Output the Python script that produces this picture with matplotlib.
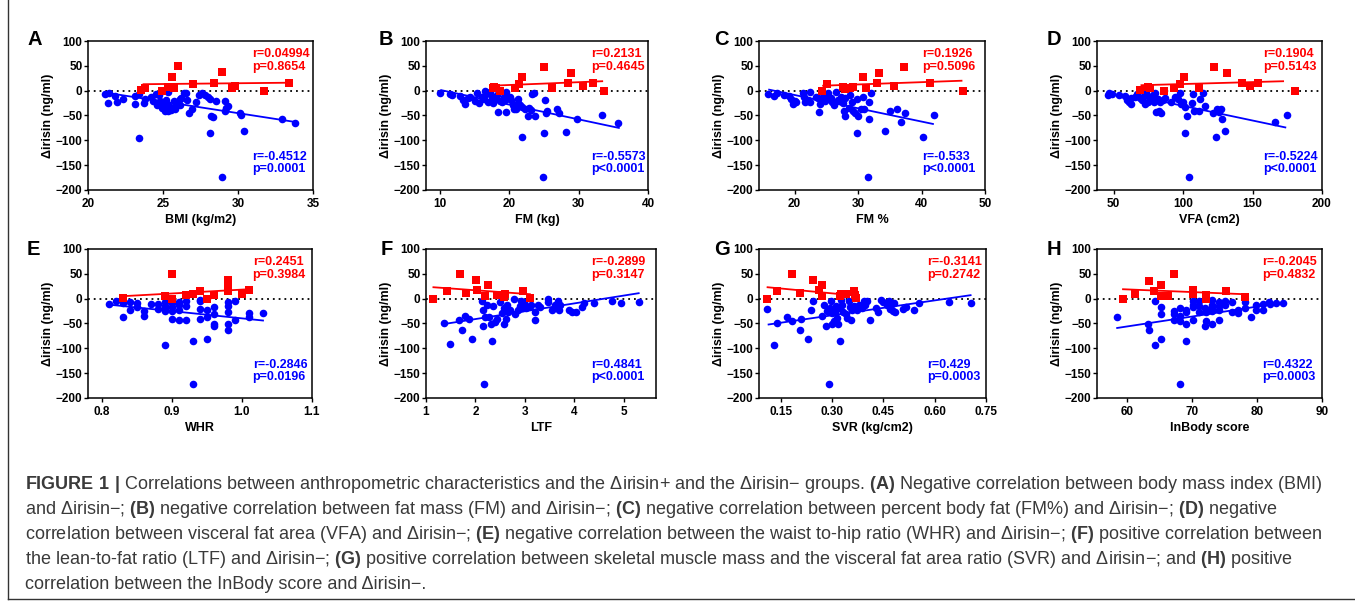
"""
Correlation scatter panels (A-H) with caption
"""
import numpy as np
import matplotlib
matplotlib.use("Agg")
import matplotlib.pyplot as plt
from matplotlib.lines import Line2D

plt.rcParams['font.family'] = ['Liberation Sans', 'DejaVu Sans']
plt.rcParams['mathtext.fontset'] = 'custom'
plt.rcParams['mathtext.rm'] = 'Liberation Sans'
plt.rcParams['mathtext.bf'] = 'Liberation Sans:bold'

# ---------------- data ----------------
# A: BMI
a_pos_x = [23.5, 23.8, 24.9, 25.3, 25.6, 25.7, 26.0, 27.0, 28.4, 28.9, 29.6, 29.8, 31.7, 33.4]
a_pos_y = [2, 5, 0, 8, 28, 5, 49, 13, 15, 37, 6, 9, 0, 16]
a_neg_x = [21.1, 21.4, 21.3, 21.8, 21.9, 22.3, 23.1, 23.1, 23.4, 23.4, 23.7, 23.8, 24.2, 24.3, 24.5,
           24.6, 24.7, 24.8, 24.9, 25.1, 25.1, 25.2, 25.3, 25.3, 25.4, 25.5, 25.6, 25.7, 25.8, 25.9,
           26.1, 26.1, 26.2, 26.4, 26.5, 26.6, 26.7, 26.9, 27.2, 27.4, 27.6, 27.8, 28.0, 28.1, 28.2,
           28.3, 28.1, 28.5, 28.9, 29.1, 29.1, 29.3, 29.2, 30.1, 30.2, 30.4, 32.9, 33.8]
a_neg_y = [-7, -5, -24, -11, -22, -17, -11, -27, -7, -95, -24, -16, -12, -21, -7,
           -29, -9, -21, -34, -41, -29, -19, -2, -41, -31, -39, -34, -21, -36, -26,
           -17, -28, -15, -5, -5, -19, -44, -36, -23, -9, -5, -9, -12, -17, -52,
           -54, -86, -21, -173, -21, -41, -30, -35, -44, -50, -82, -57, -66]
a_pos_fit = ([23.7, 33.4], [13, 16])
a_neg_fit = ([21.6, 33.8], [-6, -63])

# B: FM (kg)
b_pos_x = [17.6, 17.8, 18.1, 18.6, 20.9, 21.4, 21.9, 25.0, 26.1, 28.5, 28.9, 30.6, 32.1, 33.6]
b_pos_y = [5, 8, 5, 0, 6, 13, 27, 48, 5, 15, 36, 9, 16, 0]
b_neg_x = [10.0, 11.4, 11.8, 12.9, 13.3, 13.6, 14.1, 14.4, 15.0, 15.3, 15.7, 16.0, 16.3, 16.5,
           16.7, 17.0, 17.2, 17.5, 17.7, 18.0, 18.2, 18.4, 18.6, 18.9, 19.2, 19.4, 19.5, 19.6,
           20.1, 20.3, 20.6, 20.7, 21.0, 21.2, 21.3, 21.5, 21.8, 21.9, 22.2, 22.7, 22.9, 23.2,
           23.3, 23.6, 23.7, 24.8, 25.0, 25.2, 25.3, 25.5, 26.9, 27.2, 28.2, 29.7, 33.3, 35.7]
b_neg_y = [-5, -7, -9, -10, -19, -26, -15, -12, -21, -5, -25, -12, -17, -1,
           -7, -22, -2, -12, -25, -15, -9, -42, -21, -23, -12, -19, -42, -2,
           -12, -19, -29, -37, -36, -17, -25, -29, -93, -32, -36, -52, -34, -39,
           -7, -5, -52, -173, -85, -19, -44, -41, -36, -44, -83, -57, -50, -66]
b_pos_fit = ([17.5, 33.4], [10, 19])
b_neg_fit = ([10.2, 35.8], [1, -75])

# C: FM %
c_pos_x = [24.3, 25.1, 27.7, 27.9, 28.7, 29.2, 30.8, 31.3, 33.0, 33.3, 35.7, 37.2, 41.4, 46.6]
c_pos_y = [0, 13, 8, 3, 6, 7, 27, 5, 16, 36, 9, 48, 15, 0]
c_neg_x = [15.8, 16.7, 17.3, 18.3, 19.1, 19.4, 19.8, 20.0, 20.2, 21.3, 21.5, 21.7, 22.1, 22.4,
           22.5, 23.4, 23.7, 23.8, 24.0, 24.2, 24.5, 24.8, 25.0, 25.3, 25.7, 25.9, 26.2, 26.6,
           26.9, 27.3, 27.5, 27.7, 27.8, 27.9, 28.0, 28.5, 28.7, 29.0, 29.2, 29.6, 29.8, 30.0,
           29.9, 30.5, 30.8, 31.0, 31.6, 31.8, 31.8, 32.0, 35.0, 36.1, 36.8, 37.4, 34.3, 40.2, 42.0]
c_neg_y = [-7, -10, -5, -9, -10, -17, -26, -21, -23, -5, -12, -22, -19, -3,
           -22, -12, -15, -42, -26, -19, -12, -21, -9, -5, -15, -22, -29, -2,
           -19, -12, -21, -25, -41, -52, -15, -34, -9, -23, -41, -44, -17, -52,
           -85, -36, -12, -36, -173, -57, -22, -5, -41, -36, -64, -44, -81, -94, -50]
c_pos_fit = ([24.5, 46.3], [10, 20])
c_neg_fit = ([16.0, 41.8], [2, -67])

# D: VFA (cm2)
d_pos_x = [69.3, 74.7, 75.9, 86.3, 93.7, 97.8, 100.6, 111.2, 122.4, 131.4, 142.4, 147.8, 153.9, 180.7]
d_pos_y = [1, 8, 5, 0, 6, 13, 27, 6, 48, 36, 16, 9, 15, 0]
d_neg_x = [45.6, 46.4, 48.8, 53.7, 58.5, 59.8, 61.0, 62.2, 62.7, 65.1, 67.1, 69.0, 70.2, 71.5,
           72.4, 73.2, 74.4, 76.3, 78.0, 79.3, 79.8, 80.5, 81.7, 82.4, 83.7, 84.1, 85.4, 86.6,
           91.0, 93.9, 96.3, 97.6, 98.8, 100.0, 101.3, 102.5, 101.7, 104.2, 106.6, 107.0, 107.9,
           111.1, 112.3, 114.5, 115.9, 121.3, 124.2, 123.7, 126.1, 127.3, 128.1, 130.5, 166.3, 174.9]
d_neg_y = [-9, -5, -7, -9, -10, -19, -23, -15, -27, -12, -7, -15, -19, -11,
           -26, -5, -22, -15, -9, -23, -5, -42, -17, -41, -22, -44, -19, -14,
           -23, -12, -17, -5, -27, -22, -32, -52, -85, -173, -25, -7, -41,
           -41, -17, -5, -30, -44, -36, -94, -42, -36, -57, -81, -64, -50]
d_pos_fit = ([70, 172], [11, 19])
d_neg_fit = ([65, 173.6], [-10, -74])

# E: WHR
e_pos_x = [0.83, 0.89, 0.90, 0.90, 0.92, 0.93, 0.94, 0.95, 0.96, 0.98, 0.98, 0.98, 0.98, 1.00, 1.01]
e_pos_y = [1, 5, 50, 0, 7, 9, 15, 0, 7, 38, 30, 21, 16, 9, 17]
e_neg_x = [0.81, 0.82, 0.83, 0.83, 0.84, 0.84, 0.85, 0.85, 0.86, 0.86, 0.87, 0.88, 0.88,
           0.89, 0.89, 0.89, 0.89, 0.89, 0.90, 0.90, 0.90, 0.90, 0.91, 0.91, 0.91, 0.91,
           0.92, 0.92, 0.92, 0.93, 0.93, 0.94, 0.94, 0.94, 0.94, 0.95, 0.95, 0.95, 0.96,
           0.96, 0.96, 0.96, 0.98, 0.98, 0.98, 0.98, 0.98, 0.99, 0.99, 1.01, 1.01, 1.03]
e_neg_y = [-11, -4, -36, -9, -7, -22, -9, -17, -24, -34, -10, -11, -20,
           -7, -15, -24, -93, -19, -9, -17, -24, -41, -7, -13, -22, -42,
           -4, -14, -42, -85, -172, -2, -5, -20, -41, -22, -36, -81, -17,
           -31, -51, -56, -7, -15, -26, -51, -64, -42, -5, -29, -36, -29]
e_pos_fit = ([0.83, 1.01], [5, 19])
e_neg_fit = ([0.81, 1.03], [-12, -44])

# F: LTF
f_pos_x = [1.15, 1.43, 1.69, 1.81, 2.01, 2.04, 2.19, 2.26, 2.43, 2.51, 2.58, 2.60, 2.97, 3.11]
f_pos_y = [0, 16, 50, 11, 37, 17, 6, 28, 8, 7, 3, 9, 15, 1]
f_neg_x = [1.37, 1.48, 1.67, 1.72, 1.79, 1.86, 1.92, 2.13, 2.15, 2.15, 2.17, 2.19, 2.24, 2.28,
           2.31, 2.33, 2.36, 2.40, 2.43, 2.50, 2.53, 2.57, 2.58, 2.62, 2.64, 2.65, 2.69, 2.77,
           2.80, 2.87, 2.90, 2.93, 2.95, 2.98, 3.00, 3.03, 3.10, 3.13, 3.20, 3.21, 3.27, 3.31,
           3.47, 3.47, 3.54, 3.60, 3.67, 3.69, 3.71, 3.90, 3.95, 4.03, 4.15, 4.20, 4.40, 4.77,
           4.94, 5.30]
f_neg_y = [-50, -91, -42, -64, -34, -41, -81, -4, -22, -56, -172, -36, -12, -36,
           -52, -85, -15, -46, -40, -7, -29, -52, -19, -40, -12, -27, -22, 0,
           -31, -22, -15, -4, -19, -7, -15, -19, -15, -13, -26, -42, -12, -17,
           0, -7, -22, -12, -4, -22, -12, -22, -26, -27, -17, -9, -9, -4,
           -9, -7]
f_pos_fit = ([1.15, 3.1], [23, 9])
f_neg_fit = ([1.37, 5.3], [-51, 11])

# G: SVR (kg/cm2)
g_pos_x = [0.109, 0.141, 0.184, 0.207, 0.246, 0.261, 0.271, 0.271, 0.323, 0.327, 0.340, 0.365, 0.367, 0.370]
g_pos_y = [0, 16, 50, 11, 37, 17, 28, 6, 6, 9, 9, 15, 7, 1]
g_neg_x = [0.109, 0.132, 0.139, 0.169, 0.182, 0.207, 0.209, 0.231, 0.239, 0.244, 0.271, 0.278,
           0.284, 0.286, 0.291, 0.294, 0.296, 0.301, 0.301, 0.306, 0.308, 0.311, 0.314, 0.318,
           0.321, 0.323, 0.327, 0.330, 0.333, 0.340, 0.345, 0.350, 0.353, 0.355, 0.360, 0.365,
           0.373, 0.380, 0.387, 0.393, 0.397, 0.403, 0.410, 0.429, 0.434, 0.444, 0.449, 0.462,
           0.466, 0.469, 0.474, 0.479, 0.482, 0.484, 0.509, 0.516, 0.539, 0.555, 0.641, 0.707]
g_neg_y = [-20, -93, -50, -36, -44, -64, -41, -81, -22, -4, -34, -12,
           -56, -24, -172, -19, -5, -29, -51, -44, -26, -15, -39, -52,
           -19, -85, -2, -13, -26, -31, -38, -5, -17, -42, -22, -15,
           -22, -12, -19, -5, -12, -4, -42, -19, -27, -2, -7, -12,
           -4, -20, -11, -24, -9, -27, -20, -17, -22, -9, -7, -9]
g_pos_fit = ([0.112, 0.372], [23, 6])
g_neg_fit = ([0.115, 0.705], [-52, 7])

# H: InBody score
h_pos_x = [59.4, 61.3, 63.4, 64.2, 65.3, 65.3, 66.3, 67.2, 70.2, 70.2, 72.2, 72.2, 75.2, 78.1]
h_pos_y = [0, 10, 36, 16, 28, 6, 5, 50, 18, 10, 7, 0, 15, 3]
h_neg_x = [58.4, 63.3, 63.4, 64.3, 64.3, 65.3, 65.3, 65.3, 67.2, 67.2, 67.2, 68.2, 68.2, 68.2,
           68.2, 69.1, 69.1, 69.1, 69.1, 70.1, 70.1, 70.1, 70.1, 71.1, 71.1, 71.1, 72.0, 72.1,
           72.1, 72.0, 73.1, 73.1, 73.1, 73.1, 73.1, 74.1, 74.1, 74.1, 74.1, 75.1, 75.1, 76.1,
           76.1, 77.1, 77.1, 78.1, 78.1, 79.1, 79.9, 79.9, 81.0, 81.0, 81.9, 82.0, 82.9, 84.0]
h_neg_y = [-36, -51, -64, -5, -93, -17, -31, -81, -24, -31, -42, -19, -34, -44,
           -172, -22, -27, -52, -85, -5, -12, -17, -42, -4, -15, -27, -19, -27,
           -44, -56, -2, -12, -19, -24, -52, -7, -15, -22, -42, -4, -12, -7,
           -27, -22, -29, -7, -19, -36, -12, -22, -11, -22, -7, -11, -9, -9]
h_pos_fit = ([59.4, 78.0], [19, 9])
h_neg_fit = ([58.5, 84.0], [-59, -8])

letters = ["A", "B", "C", "D", "E", "F", "G", "H"]
xlabels = ["BMI (kg/m2)", "FM (kg)", "FM %", "VFA (cm2)", "WHR", "LTF", "SVR (kg/cm2)", "InBody score"]
xlims = [(20, 35), (8, 40), (14.4, 50), (38, 200), (0.78, 1.1), (1, 5.65), (0.087, 0.75), (55.4, 90)]
xticks = [[20, 25, 30, 35], [10, 20, 30, 40], [20, 30, 40, 50], [50, 100, 150, 200],
          [0.8, 0.9, 1.0, 1.1], [1, 2, 3, 4, 5], [0.15, 0.30, 0.45, 0.60, 0.75], [60, 70, 80, 90]]
xfmts = ["{:g}", "{:g}", "{:g}", "{:g}", "{:.1f}", "{:g}", "{:.2f}", "{:g}"]
yticks = [-200, -150, -100, -50, 0, 50, 100]
pos_stats = ["r=0.04994\np=0.8654", "r=0.2131\np=0.4645", "r=0.1926\np=0.5096", "r=0.1904\np=0.5143",
             "r=0.2451\np=0.3984", "r=-0.2899\np=0.3147", "r=-0.3141\np=0.2742", "r=-0.2045\np=0.4832"]
neg_stats = ["r=-0.4512\np=0.0001", "r=-0.5573\np<0.0001", "r=-0.533\np<0.0001", "r=-0.5224\np<0.0001",
             "r=-0.2846\np=0.0196", "r=0.4841\np<0.0001", "r=0.429\np=0.0003", "r=0.4322\np=0.0003"]

pos_series = [(a_pos_x, a_pos_y, a_pos_fit), (b_pos_x, b_pos_y, b_pos_fit), (c_pos_x, c_pos_y, c_pos_fit),
              (d_pos_x, d_pos_y, d_pos_fit), (e_pos_x, e_pos_y, e_pos_fit), (f_pos_x, f_pos_y, f_pos_fit),
              (g_pos_x, g_pos_y, g_pos_fit), (h_pos_x, h_pos_y, h_pos_fit)]
neg_series = [(a_neg_x, a_neg_y, a_neg_fit), (b_neg_x, b_neg_y, b_neg_fit), (c_neg_x, c_neg_y, c_neg_fit),
              (d_neg_x, d_neg_y, d_neg_fit), (e_neg_x, e_neg_y, e_neg_fit), (f_neg_x, f_neg_y, f_neg_fit),
              (g_neg_x, g_neg_y, g_neg_fit), (h_neg_x, h_neg_y, h_neg_fit)]

caption_lines = [
    r"$\mathbf{FIGURE\ 1\ |}$ Correlations between anthropometric characteristics and the Δirisin+ and the Δirisin− groups. "
    r"$\mathbf{(A)}$ Negative correlation between body mass index (BMI)",
    r"and Δirisin−; $\mathbf{(B)}$ negative correlation between fat mass (FM) and Δirisin−; $\mathbf{(C)}$ negative "
    r"correlation between percent body fat (FM%) and Δirisin−; $\mathbf{(D)}$ negative",
    r"correlation between visceral fat area (VFA) and Δirisin−; $\mathbf{(E)}$ negative correlation between the waist "
    r"to-hip ratio (WHR) and Δirisin−; $\mathbf{(F)}$ positive correlation between",
    r"the lean-to-fat ratio (LTF) and Δirisin−; $\mathbf{(G)}$ positive correlation between skeletal muscle mass and "
    r"the visceral fat area ratio (SVR) and Δirisin−; and $\mathbf{(H)}$ positive",
    r"correlation between the InBody score and Δirisin−.",
]

# ---------------- layout (pixels) ----------------
W, H = 1355, 602
RED = "#ff0000"
BLUE = "#0000ff"
boxes = [(88, 41, 313, 190), (426, 41, 648, 190), (759, 41, 985, 190), (1097, 41, 1322, 190),
         (88, 249, 312, 398), (426, 249, 656, 398), (759, 249, 986, 398), (1097, 249, 1322, 398)]
letter_pos = [(27, 30), (379, 30), (714, 30), (1047, 30), (27, 240), (381, 240), (714, 240), (1047, 240)]
stat_x = [0.73, 0.745, 0.72, 0.74, 0.735, 0.72, 0.74, 0.733]

fig = plt.figure(figsize=(W / 100, H / 100), dpi=100)


def px_axes(left, top, right, bottom):
    return fig.add_axes([left / W, 1 - bottom / H, (right - left) / W, (bottom - top) / H])


for i in range(8):
    ax = px_axes(*boxes[i])
    px, py, pfit = pos_series[i]
    nx, ny, nfit = neg_series[i]
    ax.axhline(0, color="black", ls=(0, (1, 2.2)), lw=1.3, zorder=1)
    ax.plot(nfit[0], nfit[1], color=BLUE, lw=1.3, zorder=2)
    ax.plot(pfit[0], pfit[1], color=RED, lw=1.3, zorder=2)
    ax.scatter(nx, ny, s=30, marker="o", color=BLUE, linewidths=0, zorder=3, clip_on=False)
    ax.scatter(px, py, s=30, marker="s", color=RED, linewidths=0, zorder=4, clip_on=False)

    ax.set_xlim(*xlims[i])
    ax.set_ylim(-200, 100)
    ax.set_yticks(yticks)
    ax.set_xticks(xticks[i])
    ax.set_xticklabels([xfmts[i].format(t) for t in xticks[i]])
    for lab in ax.get_xticklabels() + ax.get_yticklabels():
        lab.set_fontweight("bold")
    ax.tick_params(axis="both", direction="out", length=3, width=1, labelsize=8.5)
    ax.tick_params(axis="y", pad=1)
    ax.tick_params(axis="x", pad=2.5)
    for sp in ax.spines.values():
        sp.set_linewidth(1.1)

    ax.set_xlabel(xlabels[i], fontsize=9, fontweight="bold", labelpad=3)
    ax.set_ylabel("Δirisin (ng/ml)", fontsize=9, fontweight="bold", labelpad=1)

    ax.text(stat_x[i], 0.95, pos_stats[i], transform=ax.transAxes, color=RED, fontsize=9,
            fontweight="bold", ha="left", va="top", linespacing=1.05)
    ax.text(stat_x[i], 0.262, neg_stats[i], transform=ax.transAxes, color=BLUE, fontsize=9,
            fontweight="bold", ha="left", va="top", linespacing=1.05)

    lx, ly = letter_pos[i]
    fig.text(lx / W, 1 - ly / H, letters[i], fontsize=14.5, fontweight="bold", ha="left", va="top")

# caption
for k, line in enumerate(caption_lines):
    fig.text(25 / W, 1 - (489 + 25 * k) / H, line, fontsize=13, color="#3a3a3a",
             ha="left", va="baseline")

# page frame (left and bottom edges)
fig.add_artist(Line2D([8 / W, 8 / W], [1 - 599 / H, 1], color="#333333", lw=1.0))
fig.add_artist(Line2D([8 / W, 1], [1 - 599 / H, 1 - 599 / H], color="#333333", lw=1.0))

fig.savefig("out.png", dpi=100)
plt.close(fig)
